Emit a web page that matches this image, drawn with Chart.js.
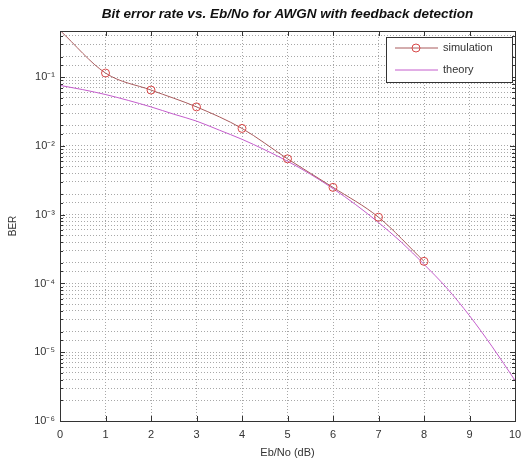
<!DOCTYPE html>
<html>
<head>
<meta charset="utf-8">
<script src="https://cdn.jsdelivr.net/npm/chart.js@4/dist/chart.umd.min.js"></script>
<style>
  html, body { margin: 0; padding: 0; background: #fff; }
  #wrap { width: 521px; height: 464px; }
</style>
</head>
<body>
<div id="wrap"><canvas id="berChart" width="521" height="464"></canvas></div>
<script>
// values
const simEbNo = [0, 1, 2, 3, 4, 5, 6, 7, 8];
const simBer = [0.48, 0.115, 0.065, 0.037, 0.018, 0.0065, 0.0025, 0.00092, 0.00021];

const theoryEbNo = [0, 0.5, 1, 1.5, 2, 2.5, 3, 3.5, 4, 4.5, 5, 5.5, 6, 6.5, 7, 7.5, 8, 8.5, 9, 9.5, 10];
const theoryBer = [0.076, 0.066, 0.056, 0.046, 0.037, 0.029, 0.023, 0.017, 0.0125, 0.0088, 0.006,
    0.0039, 0.0024, 0.0014, 0.00077, 0.0004, 0.00019, 0.000086, 0.000034, 0.000012, 0.0000039];

const xTicks = [0, 1, 2, 3, 4, 5, 6, 7, 8, 9, 10];
const yLimits = [1e-6, 0.47];
const chartTitle = 'Bit error rate vs. Eb/No for AWGN with feedback detection';

const superDigits = { '-': '⁻', '0': '⁰', '1': '¹', '2': '²', '3': '³', '4': '⁴', '5': '⁵', '6': '⁶', '7': '⁷', '8': '⁸', '9': '⁹' };
function powerLabel(v) {
    const e = Math.log10(v);
    if (Math.abs(e - Math.round(e)) > 1e-6) return '';
    return '10' + String(Math.round(e)).split('').map(c => superDigits[c]).join('');
}

function toPoints(xs, ys) {
    return xs.map((x, i) => ({ x: x, y: ys[i] }));
}

// box round the axes, inward tick marks, title over the axes and the legend, MATLAB style
const axesBox = {
    id: 'axesBox',
    afterDraw(chart) {
        const c = chart.ctx;
        const a = chart.chartArea;
        const xs = chart.scales.x, ys = chart.scales.y;
        c.save();
        c.strokeStyle = '#333';
        c.lineWidth = 1;
        c.strokeRect(a.left + 0.5, a.top + 0.5, a.right - a.left, a.bottom - a.top);

        c.beginPath();
        xs.ticks.forEach(t => {
            const px = Math.round(xs.getPixelForValue(t.value)) + 0.5;
            c.moveTo(px, a.bottom); c.lineTo(px, a.bottom - 5);
            c.moveTo(px, a.top); c.lineTo(px, a.top + 5);
        });
        ys.ticks.forEach(t => {
            const py = Math.round(ys.getPixelForValue(t.value)) + 0.5;
            const len = powerLabel(t.value) ? 5 : 3;
            c.moveTo(a.left, py); c.lineTo(a.left + len, py);
            c.moveTo(a.right, py); c.lineTo(a.right - len, py);
        });
        c.stroke();

        // title, centred over the axes
        c.fillStyle = '#111';
        c.font = 'italic bold 13.5px "Liberation Sans", Arial, sans-serif';
        c.textAlign = 'center';
        c.textBaseline = 'middle';
        c.fillText(chartTitle, (a.left + a.right) / 2, 14);

        // legend
        const lx = 386, ly = 37, lw = 126, lh = 45;
        c.fillStyle = '#fff';
        c.fillRect(lx, ly, lw, lh);
        c.strokeRect(lx + 0.5, ly + 0.5, lw, lh);
        c.font = '11px "Liberation Sans", Arial, sans-serif';
        c.textAlign = 'left';
        chart.data.datasets.forEach((ds, i) => {
            const y = ly + 11 + i * 22;
            c.strokeStyle = ds.borderColor;
            c.lineWidth = 1;
            c.beginPath();
            c.moveTo(lx + 9, y); c.lineTo(lx + 52, y);
            c.stroke();
            if (ds.legendMarker) {
                c.strokeStyle = ds.pointBorderColor;
                c.beginPath();
                c.arc(lx + 30, y, 4, 0, Math.PI * 2);
                c.stroke();
            }
            c.fillStyle = '#333';
            c.fillText(ds.label, lx + 57, y);
        });
        c.restore();
    }
};

const gridLook = { color: '#a8a8a8', drawTicks: false };
const borderLook = { display: false, dash: [1, 2] };

new Chart(document.getElementById('berChart').getContext('2d'), {
    type: 'line',
    data: {
        datasets: [{
            label: 'simulation',
            data: toPoints(simEbNo, simBer),
            borderColor: '#a85a5c',
            borderWidth: 1,
            pointBorderColor: '#d84848',
            pointBackgroundColor: 'rgba(255,255,255,0)',
            pointRadius: ctx => (ctx.dataIndex === 0 ? 0 : 4),
            pointBorderWidth: 1,
            cubicInterpolationMode: 'monotone',
            legendMarker: true
        }, {
            label: 'theory',
            data: toPoints(theoryEbNo, theoryBer),
            borderColor: '#c45ccc',
            borderWidth: 1,
            pointRadius: 0,
            cubicInterpolationMode: 'monotone'
        }]
    },
    options: {
        responsive: false,
        animation: false,
        layout: { padding: { left: 3, right: 6, top: 31, bottom: 0 } },
        plugins: {
            legend: { display: false },
            tooltip: { enabled: false },
            title: { display: false }
        },
        scales: {
            x: {
                type: 'linear',
                min: xTicks[0],
                max: xTicks[xTicks.length - 1],
                afterBuildTicks: s => { s.ticks = xTicks.map(v => ({ value: v })); },
                afterFit: s => { s.height = 43; s.paddingRight = 0; s.paddingLeft = 0; },
                grid: gridLook,
                border: borderLook,
                ticks: { color: '#333', padding: 7, font: { family: '"Liberation Sans", Arial, sans-serif', size: 11 } },
                title: { display: true, text: 'Eb/No (dB)', color: '#333', padding: { top: 1 }, font: { family: '"Liberation Sans", Arial, sans-serif', size: 11 } }
            },
            y: {
                type: 'logarithmic',
                min: yLimits[0],
                max: yLimits[1],
                afterFit: s => { s.width = 57; s.paddingTop = 0; s.paddingBottom = 0; },
                grid: gridLook,
                border: borderLook,
                ticks: {
                    color: '#333',
                    padding: 5,
                    autoSkip: false,
                    font: { family: '"Liberation Sans", Arial, sans-serif', size: 11 },
                    callback: v => powerLabel(v)
                },
                title: { display: true, text: 'BER', color: '#333', padding: { bottom: 8 }, font: { family: '"Liberation Sans", Arial, sans-serif', size: 10 } }
            }
        }
    },
    plugins: [axesBox]
});
</script>
</body>
</html>
